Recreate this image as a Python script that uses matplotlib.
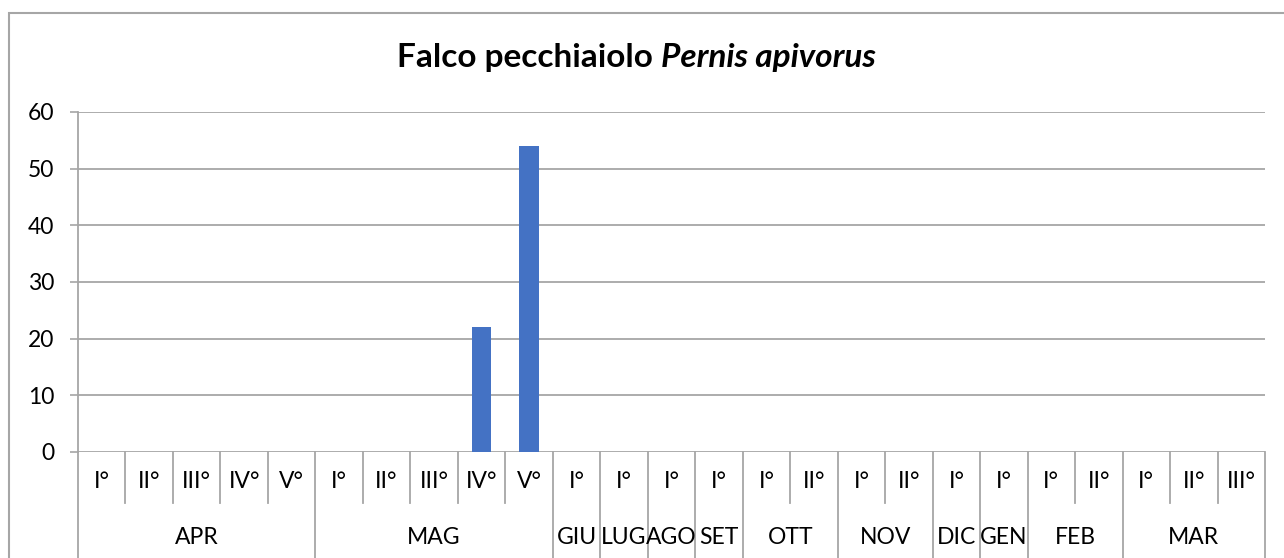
import matplotlib
matplotlib.use('Agg')
import matplotlib.pyplot as plt
from matplotlib.patches import Rectangle

plt.rcParams['font.family'] = ['Lato', 'DejaVu Sans']

# data
months = ['APR', 'MAG', 'GIU', 'LUG', 'AGO', 'SET', 'OTT', 'NOV', 'DIC', 'GEN', 'FEB', 'MAR']
decadi = [
    ['I°', 'II°', 'III°', 'IV°', 'V°'],
    ['I°', 'II°', 'III°', 'IV°', 'V°'],
    ['I°'],
    ['I°'],
    ['I°'],
    ['I°'],
    ['I°', 'II°'],
    ['I°', 'II°'],
    ['I°'],
    ['I°'],
    ['I°', 'II°'],
    ['I°', 'II°', 'III°'],
]
values = [0, 0, 0, 0, 0,
          0, 0, 0, 22, 54,
          0, 0, 0, 0,
          0, 0, 0, 0, 0, 0,
          0, 0, 0, 0, 0]
yticks = [0, 10, 20, 30, 40, 50, 60]

W, H = 1284, 558
BAR = '#4472C4'
GRID = '#A6A6A6'
FS = 16.5


def px_x(x):
    return x / W


def px_y(y):
    return 1 - y / H


fig = plt.figure(figsize=(W / 100, H / 100), dpi=100)

# chart border (runs off the right and bottom edge)
fig.patches.append(Rectangle((px_x(9), -0.1), 1.2, px_y(13) + 0.1,
                             transform=fig.transFigure, fill=False,
                             edgecolor=GRID, linewidth=1.5))

left, right, top, bottom = 78, 1265, 112, 452
ax = fig.add_axes([px_x(left), px_y(bottom), px_x(right - left), (bottom - top) / H])

n = len(values)
xs = [i + 0.5 for i in range(n)]
ax.bar(xs, values, width=0.41, color=BAR, linewidth=0, zorder=3)

ax.set_xlim(0, n)
ax.set_ylim(0, 60)
ax.set_yticks(yticks)
ax.set_yticklabels([str(v) for v in yticks], fontsize=FS)
ax.tick_params(axis='y', length=6, color=GRID, width=1.2, pad=11)
ax.set_xticks([])
ax.yaxis.grid(True, color=GRID, linewidth=1.3, zorder=0)
ax.set_axisbelow(True)
for s in ['top', 'right', 'bottom']:
    ax.spines[s].set_visible(False)
ax.spines['left'].set_color(GRID)
ax.spines['left'].set_linewidth(1.3)

# two level category axis
tr = ax.get_xaxis_transform()
h = bottom - top
inner_y = -(503 - bottom) / h
outer_y = -(H + 5 - bottom) / h
lab1_y = -(481 - bottom) / h
lab2_y = -(538 - bottom) / h

group_edges = [0]
for d in decadi:
    group_edges.append(group_edges[-1] + len(d))

for i in range(n + 1):
    y_end = outer_y if i in group_edges else inner_y
    ax.plot([i, i], [0, y_end], color=GRID, linewidth=1.3, transform=tr, clip_on=False)

k = 0
for m, d in zip(months, decadi):
    for lab in d:
        ax.text(k + 0.5, lab1_y, lab, transform=tr, ha='center', va='center', fontsize=FS)
        k += 1
    centre = k - len(d) / 2
    ax.text(centre, lab2_y, m, transform=tr, ha='center', va='center', fontsize=FS)

# title, species name in italics
t1 = fig.text(px_x(397), px_y(58), 'Falco pecchiaiolo ', fontsize=24, fontweight='bold',
              ha='left', va='center')
fig.canvas.draw()
bb = t1.get_window_extent()
fig.text(bb.x1 / W, px_y(58), 'Pernis apivorus', fontsize=24, fontweight='bold',
         style='italic', ha='left', va='center')

fig.savefig('out.png', dpi=100)
